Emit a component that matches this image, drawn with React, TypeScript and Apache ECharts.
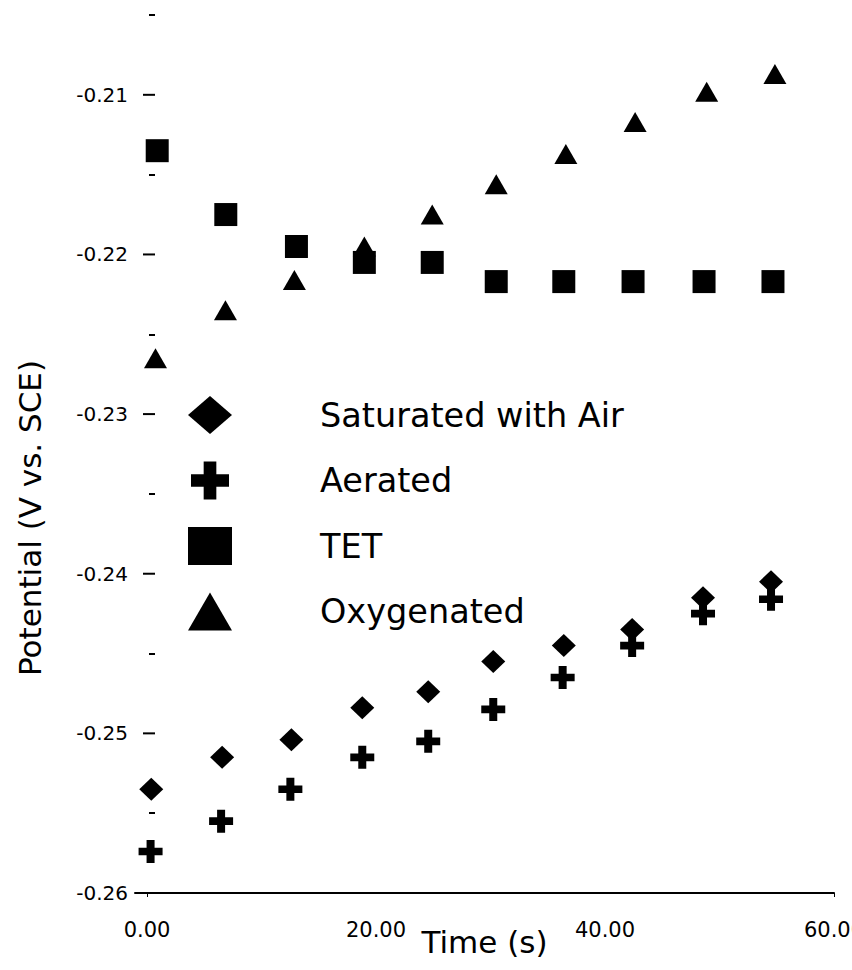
import React, { useEffect, useRef } from "react";
import * as echarts from "echarts";

// Data
const timeSat = [0.37, 6.56, 12.61, 18.8, 24.56, 30.24, 36.4, 42.37, 48.56, 54.5];
const potSat = [-0.2535, -0.2515, -0.2504, -0.2484, -0.2474, -0.2455, -0.2445, -0.2435, -0.2415, -0.2405];
const timeAer = [0.31, 6.47, 12.52, 18.8, 24.56, 30.24, 36.3, 42.37, 48.56, 54.5];
const potAer = [-0.2574, -0.2555, -0.2535, -0.2515, -0.2505, -0.2485, -0.2465, -0.2445, -0.2425, -0.2416];
const timeTet = [0.89, 6.88, 13.05, 18.98, 24.91, 30.5, 36.4, 42.45, 48.65, 54.67];
const potTet = [-0.2135, -0.2175, -0.2195, -0.2205, -0.2205, -0.2217, -0.2217, -0.2217, -0.2217, -0.2217];
const timeOxy = [0.74, 6.85, 12.87, 18.98, 24.91, 30.5, 36.58, 42.63, 48.88, 54.84];
const potOxy = [-0.2265, -0.2235, -0.2216, -0.2195, -0.2175, -0.2156, -0.2137, -0.2117, -0.2098, -0.2087];

const seriesNames = ["Saturated with Air", "Aerated", "TET", "Oxygenated"];
const yMin = -0.26;
const yMax = -0.205;
const yMajorTicks = [-0.26, -0.25, -0.24, -0.23, -0.22, -0.21];
const yMinorTicks = [-0.255, -0.245, -0.235, -0.225, -0.215, -0.205];
const xTickLabels = [0, 20, 40, 60];
const xEndTicks = [0, 60];

const PLUS = "path://M1,0H2V1H3V2H2V3H1V2H0V1H1Z";
const FONT = "DejaVu Sans";

const pairs = (xs: number[], ys: number[]) => xs.map((x, i) => [x, ys[i]]);

export default function App() {
  const ref = useRef<HTMLDivElement>(null);
  useEffect(() => {
    if (!ref.current) return;
    const chart = echarts.init(ref.current, null, { renderer: "svg" });
    const mk = (name: string, data: number[][], symbol: string, size: number[]) => ({
      name,
      type: "scatter",
      data,
      symbol,
      symbolSize: size,
      itemStyle: { color: "#000", opacity: 1 },
      emphasis: { disabled: true },
    });
    chart.setOption({
      animation: false,
      backgroundColor: "#fff",
      grid: { left: 135, right: 18, top: 15, bottom: 77, outerBoundsMode: "none", containLabel: false },
      xAxis: {
        type: "value",
        min: -1.05,
        max: 60,
        axisLine: { show: true, lineStyle: { color: "#000", width: 2 } },
        axisTick: { show: true, customValues: xEndTicks.slice(), length: 4, lineStyle: { color: "#000" } },
        axisLabel: {
          customValues: xTickLabels.slice(),
          formatter: (v: number) => v.toFixed(2),
          color: "#000",
          fontFamily: FONT,
          fontSize: 21,
          margin: 26,
        },
        splitLine: { show: false },
        name: "Time (s)",
        nameLocation: "middle",
        nameGap: 33,
        nameMoveOverlap: false,
        nameTextStyle: { color: "#000", fontFamily: FONT, fontSize: 31, verticalAlign: "top" },
      },
      yAxis: [
        {
          type: "value",
          min: yMin,
          max: yMax,
          position: "left",
          offset: -20,
          axisLine: { show: false },
          axisTick: { show: false },
          axisLabel: {
            customValues: yMajorTicks.slice(),
            formatter: (v: number) => `{v|${v.toFixed(2)}}{g| }{t| }`,
            margin: 0,
            rich: {
              v: { color: "#000", fontFamily: FONT, fontSize: 20 },
              g: { width: 15, fontSize: 20 },
              t: { width: 12, height: 2, fontSize: 2, backgroundColor: "#000" },
            },
          },
          splitLine: { show: false },
        },
        {
          type: "value",
          min: yMin,
          max: yMax,
          position: "left",
          offset: -20,
          axisLine: { show: false },
          axisTick: { show: true, customValues: yMinorTicks.slice(), length: 6, lineStyle: { color: "#000", width: 2 } },
          axisLabel: { show: false },
          splitLine: { show: false },
        },
      ],
      legend: {
        orient: "vertical",
        left: 188,
        top: 396,
        padding: 0,
        itemWidth: 44,
        itemHeight: 38,
        itemGap: 27.5,
        selectedMode: false,
        itemStyle: { color: "#000", opacity: 1 },
        data: [
          { name: seriesNames[0], icon: "diamond" },
          { name: seriesNames[1], icon: PLUS },
          { name: seriesNames[2], icon: "rect" },
          { name: seriesNames[3], icon: "triangle" },
        ],
        textStyle: {
          color: "#000",
          fontFamily: FONT,
          fontSize: 33.5,
          padding: [0, 0, 0, 83],
        },
      },
      graphic: [
        {
          type: "text",
          x: 30,
          y: 518,
          rotation: Math.PI / 2,
          style: {
            text: "Potential (V vs. SCE)",
            fill: "#000",
            font: `31px "${FONT}"`,
            align: "center",
            verticalAlign: "middle",
          },
        },
      ],
      series: [
        mk(seriesNames[0], pairs(timeSat, potSat), "diamond", [24, 23]),
        mk(seriesNames[1], pairs(timeAer, potAer), PLUS, [24, 23]),
        mk(seriesNames[2], pairs(timeTet, potTet), "rect", [23, 23]),
        mk(seriesNames[3], pairs(timeOxy, potOxy), "triangle", [23, 20]),
      ],
    });
    return () => chart.dispose();
  }, []);
  return (
    <div
      ref={ref}
      style={{ position: "fixed", left: 0, top: 0, width: 852, height: 970, background: "#fff" }}
    />
  );
}
